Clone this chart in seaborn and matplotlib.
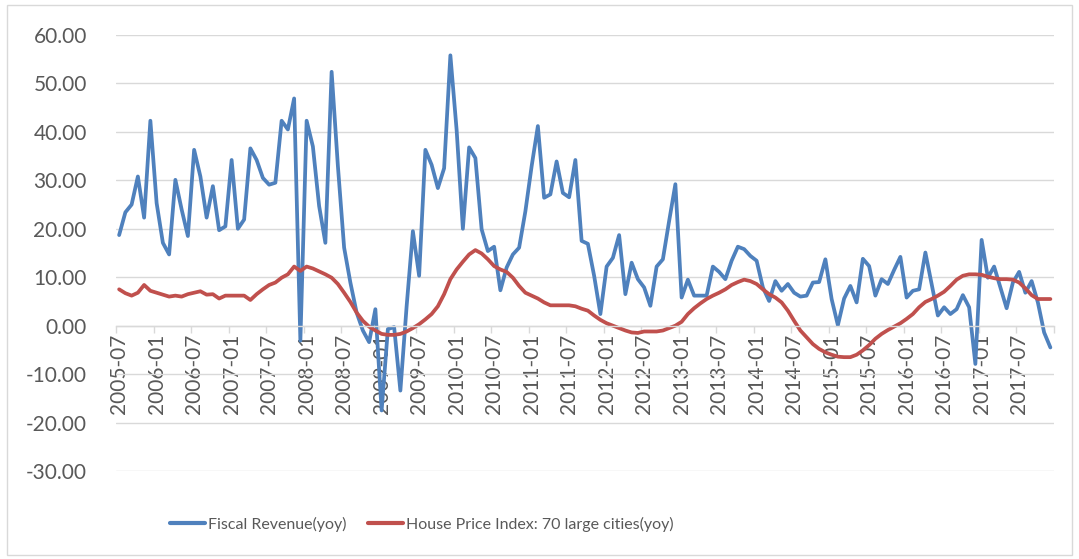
import numpy as np
import pandas as pd
import matplotlib
matplotlib.use('Agg')
import matplotlib.pyplot as plt
from matplotlib.lines import Line2D
from matplotlib.patches import Rectangle
from matplotlib.ticker import FixedLocator, FuncFormatter
import seaborn as sns

# monthly categories 2005-07 .. 2017-12
months = pd.period_range('2005-07', periods=150, freq='M').strftime('%Y-%m').tolist()

fiscal_revenue = [
    18.7, 23.4, 25.0, 30.8, 22.3, 42.3, 25.3, 17.1, 14.7, 30.1, 24.0, 18.5,
    36.3, 30.8, 22.3, 28.8, 19.7, 20.5, 34.2, 20.0, 21.9, 36.6, 34.2, 30.5,
    29.1, 29.5, 42.3, 40.5, 46.9, -3.1, 42.3, 37.0, 24.7, 17.1, 52.4, 33.0,
    16.1, 8.9, 2.7, -1.0, -3.4, 3.4, -17.5, -0.7, -0.3, -13.4, 4.0, 19.5,
    10.3, 36.3, 33.2, 28.4, 32.5, 55.8, 40.4, 20.0, 36.8, 34.6, 19.9, 15.4,
    16.3, 7.3, 12.0, 14.7, 16.1, 23.6, 32.9, 41.2, 26.4, 27.1, 33.9, 27.4,
    26.5, 34.2, 17.5, 16.9, 10.3, 2.4, 12.2, 14.0, 18.7, 6.5, 13.0, 9.6,
    7.9, 4.1, 12.2, 13.7, 21.6, 29.2, 5.8, 9.5, 6.2, 6.2, 6.2, 12.2,
    11.1, 9.6, 13.4, 16.3, 15.8, 14.4, 13.4, 7.9, 5.1, 9.2, 7.2, 8.6,
    6.8, 6.0, 6.2, 8.9, 9.0, 13.7, 5.5, 0.1, 5.6, 8.2, 4.8, 13.8,
    12.3, 6.2, 9.6, 8.6, 11.5, 14.2, 5.8, 7.2, 7.5, 15.1, 8.6, 2.1,
    3.8, 2.4, 3.4, 6.3, 3.8, -7.9, 17.7, 9.9, 12.2, 7.9, 3.6, 8.9,
    11.1, 6.8, 9.2, 4.8, -1.4, -4.5,
]

house_price = [
    7.5, 6.7, 6.2, 6.8, 8.4, 7.2, 6.8, 6.4, 6.0, 6.2, 6.0, 6.5,
    6.8, 7.1, 6.4, 6.5, 5.6, 6.2, 6.2, 6.2, 6.2, 5.3, 6.5, 7.5,
    8.4, 8.9, 9.9, 10.6, 12.2, 11.3, 12.2, 11.8, 11.2, 10.6, 9.9, 8.6,
    6.8, 4.9, 2.7, 1.0, -0.2, -1.0, -1.7, -1.9, -1.9, -1.7, -1.2, -0.5,
    0.3, 1.3, 2.4, 4.0, 6.5, 9.6, 11.6, 13.2, 14.7, 15.6, 14.9, 13.7,
    12.3, 11.6, 11.1, 9.9, 8.2, 6.8, 6.2, 5.6, 4.8, 4.2, 4.2, 4.2,
    4.2, 4.0, 3.5, 3.1, 2.1, 1.2, 0.5, 0.0, -0.5, -1.0, -1.4, -1.5,
    -1.2, -1.2, -1.2, -1.0, -0.5, 0.0, 0.8, 2.4, 3.6, 4.6, 5.5, 6.2,
    6.8, 7.5, 8.4, 9.0, 9.5, 9.2, 8.6, 7.5, 6.5, 5.8, 4.8, 3.1,
    1.0, -1.0, -2.4, -3.8, -4.8, -5.5, -6.0, -6.4, -6.5, -6.5, -6.0, -5.1,
    -4.0, -2.7, -1.7, -0.9, -0.2, 0.5, 1.4, 2.4, 3.8, 4.9, 5.5, 6.2,
    7.0, 8.2, 9.5, 10.3, 10.6, 10.6, 10.5, 10.1, 9.8, 9.6, 9.6, 9.5,
    8.9, 7.7, 6.3, 5.5, 5.5, 5.5,
]

series_names = ['Fiscal Revenue(yoy)', 'House Price Index: 70 large cities(yoy)']
series_colors = ['#4F81BD', '#C0504D']
y_ticks = list(range(-30, 61, 10))

W, H = 1079, 559
GRID = '#d9d9d9'
TEXT = '#595959'


def build_frame():
    idx = np.arange(len(months))
    parts = []
    for name, vals in zip(series_names, [fiscal_revenue, house_price]):
        parts.append(pd.DataFrame({'idx': idx, 'month': months, 'value': vals, 'series': name}))
    return pd.concat(parts, ignore_index=True)


def make_chart(df):
    sns.set_theme(style='white')
    plt.rcParams['font.family'] = ['Lato', 'DejaVu Sans']

    fig = plt.figure(figsize=(W / 100, H / 100), dpi=100)
    ax = fig.add_axes([116 / W, 1 - 471 / H, (1053.5 - 116) / W, (471 - 35) / H])

    sns.lineplot(data=df, x='idx', y='value', hue='series', hue_order=series_names,
                 palette=dict(zip(series_names, series_colors)), lw=2.7,
                 legend=False, sort=False, ax=ax)
    for line in ax.lines:
        line.set_solid_joinstyle('round')
        line.set_solid_capstyle('round')

    ax.set_xlim(-0.5, len(months) - 0.5)
    ax.set_ylim(-30, 60)
    ax.set_xlabel('')
    ax.set_ylabel('')

    # y axis
    ax.set_yticks(y_ticks)
    ax.yaxis.set_major_formatter(FuncFormatter(lambda v, p: f'{v:.2f}'))
    ax.yaxis.grid(True, color=GRID, lw=1)
    ax.xaxis.grid(False)
    ax.tick_params(axis='y', length=0, pad=21, labelsize=15, labelcolor=TEXT)

    # category axis sitting on zero
    for side in ['left', 'right', 'top']:
        ax.spines[side].set_visible(False)
    ax.spines['bottom'].set_position(('data', 0))
    ax.spines['bottom'].set_color(GRID)
    ax.spines['bottom'].set_linewidth(1)
    label_pos = list(range(0, len(months), 6))
    ax.xaxis.set_major_locator(FixedLocator(label_pos))
    ax.set_xticklabels([months[i] for i in label_pos])
    ax.xaxis.set_minor_locator(FixedLocator(np.arange(-0.5, len(months), 6)))
    ax.tick_params(axis='x', which='major', length=0, pad=6, labelsize=15,
                   labelcolor=TEXT, labelrotation=90)
    ax.tick_params(axis='x', which='minor', length=5, width=1, color=GRID,
                   direction='out', bottom=True)

    # legend
    handles = [Line2D([], [], color=c, lw=3, solid_capstyle='round') for c in series_colors]
    leg = fig.legend(handles, series_names, loc='center left',
                     bbox_to_anchor=(170 / W, 1 - 524 / H), ncol=2, frameon=False,
                     prop={'size': 11.5},
                     handlelength=2.2, handletextpad=0.2, columnspacing=1.3,
                     borderpad=0, borderaxespad=0)
    for t in leg.get_texts():
        t.set_color(TEXT)

    # chart border
    fig.patches.append(Rectangle((7 / W, 4 / H), (1072 - 7) / W, (554 - 4) / H,
                                 transform=fig.transFigure, fill=False,
                                 edgecolor=GRID, lw=1))
    return fig


def main():
    df = build_frame()
    fig = make_chart(df)
    fig.savefig('out.png', dpi=100)


if __name__ == "__main__":
    main()
